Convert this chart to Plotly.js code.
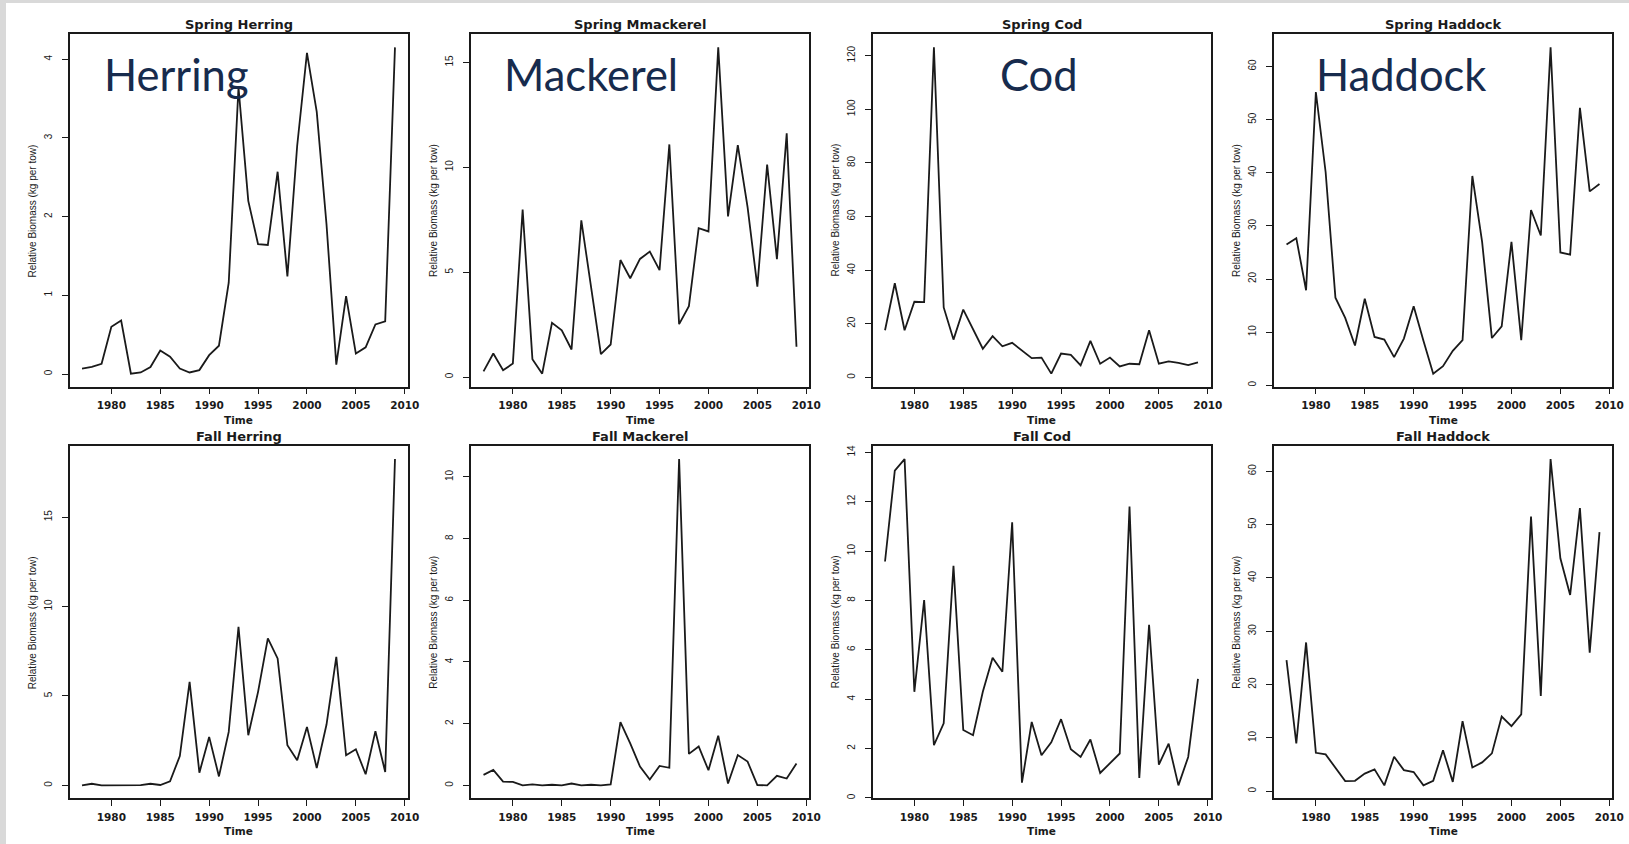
<!DOCTYPE html>
<html>
<head>
<meta charset="utf-8">
<script src="https://cdn.plot.ly/plotly-3.0.1.min.js"></script>
<style>
  html, body { margin: 0; padding: 0; background: #ffffff; }
  #chart { width: 1629px; height: 844px; }
</style>
</head>
<body>
<div id="chart"></div>
<script>
// Survey years
const years = [1977, 1978, 1979, 1980, 1981, 1982, 1983, 1984, 1985, 1986, 1987,
               1988, 1989, 1990, 1991, 1992, 1993, 1994, 1995, 1996, 1997, 1998,
               1999, 2000, 2001, 2002, 2003, 2004, 2005, 2006, 2007, 2008, 2009];

// Relative biomass (kg per tow), spring survey
const springHerring = [0.07, 0.09, 0.13, 0.60, 0.68, 0.005, 0.02, 0.09, 0.30, 0.22, 0.07,
                       0.02, 0.05, 0.24, 0.36, 1.16, 3.64, 2.20, 1.65, 1.64, 2.57, 1.24,
                       2.90, 4.08, 3.33, 1.90, 0.12, 0.99, 0.26, 0.34, 0.63, 0.67, 4.15];
const springMackerel = [0.27, 1.12, 0.32, 0.64, 7.98, 0.85, 0.16, 2.58, 2.23, 1.31, 7.47,
                        4.20, 1.09, 1.55, 5.58, 4.71, 5.63, 5.98, 5.10, 11.09, 2.52, 3.38,
                        7.10, 6.94, 15.72, 7.66, 11.06, 8.10, 4.31, 10.13, 5.62, 11.62, 1.44];
const springCod = [17.6, 35.1, 17.6, 28.2, 28.1, 123.1, 26.1, 14.1, 25.3, 18.0, 10.7,
                   15.4, 11.6, 12.9, 10.1, 7.2, 7.4, 1.4, 8.9, 8.4, 4.5, 13.6,
                   5.1, 7.4, 4.1, 5.1, 4.9, 17.6, 5.1, 6.0, 5.4, 4.6, 5.6];
const springHaddock = [26.5, 27.7, 17.9, 55.2, 40.1, 16.5, 12.7, 7.5, 16.3, 9.1, 8.6,
                       5.3, 8.8, 14.9, 8.4, 2.2, 3.6, 6.5, 8.5, 39.4, 27.0, 8.9,
                       11.1, 27.0, 8.5, 33.0, 28.2, 63.6, 25.0, 24.6, 52.2, 36.5, 37.9];

// Relative biomass (kg per tow), fall survey
const fallHerring = [0.0, 0.09, 0.0, 0.0, 0.0, 0.02, 0.01, 0.09, 0.02, 0.22, 1.64,
                     5.79, 0.71, 2.71, 0.50, 2.99, 8.87, 2.80, 5.23, 8.22, 7.10, 2.24,
                     1.40, 3.27, 0.97, 3.40, 7.19, 1.68, 2.02, 0.62, 3.03, 0.75, 18.25];
const fallMackerel = [0.34, 0.50, 0.12, 0.11, 0.0, 0.03, 0.0, 0.02, 0.0, 0.06, 0.0,
                      0.02, 0.0, 0.03, 2.05, 1.36, 0.61, 0.19, 0.63, 0.57, 10.58, 1.02,
                      1.26, 0.49, 1.61, 0.06, 0.98, 0.77, 0.01, 0.0, 0.31, 0.22, 0.71];
const fallCod = [9.58, 13.26, 13.73, 4.30, 8.02, 2.14, 3.02, 9.40, 2.75, 2.54, 4.30,
                 5.68, 5.11, 11.17, 0.62, 3.08, 1.73, 2.25, 3.19, 1.97, 1.66, 2.37,
                 1.01, 1.39, 1.80, 11.81, 0.81, 7.01, 1.35, 2.20, 0.51, 1.66, 4.82];
const fallHaddock = [24.6, 8.95, 27.9, 7.2, 6.9, 4.3, 1.9, 1.95, 3.3, 4.1, 1.1,
                     6.45, 3.95, 3.6, 1.1, 1.95, 7.7, 1.75, 13.15, 4.45, 5.4, 7.1,
                     14.0, 12.2, 14.4, 51.5, 17.85, 62.3, 43.7, 36.8, 53.1, 26.0, 48.6];

// Panel titles, series and y tick steps (top row, then bottom row)
const panelTitles = ['Spring Herring', 'Spring Mmackerel', 'Spring Cod', 'Spring Haddock',
                     'Fall Herring', 'Fall Mackerel', 'Fall Cod', 'Fall Haddock'];
const panelSeries = [springHerring, springMackerel, springCod, springHaddock,
                     fallHerring, fallMackerel, fallCod, fallHaddock];
const yTickSteps = [1, 5, 20, 10, 5, 2, 2, 10];
const xTickLabels = [1980, 1985, 1990, 1995, 2000, 2005, 2010];
const speciesLabels = ['Herring', 'Mackerel', 'Cod', 'Haddock'];

// Page geometry (px)
const W = 1629, H = 844;
const colLeft = [69.5, 471, 872.5, 1274];
const boxW = 338;
const rowTop = [34.3, 446];
const boxH = 352.4;

const ink = '#1a1a1a';
const plainFont = 'Liberation Sans, Arial, sans-serif';
const boldFont = 'DejaVu Sans, Verdana, sans-serif';

// R-style axis padding: 4% of the data range on each side
function padRange(lo, hi) {
  const d = hi - lo;
  return [lo - 0.04 * d, hi + 0.04 * d];
}

const traces = [];
const layout = {
  width: W, height: H,
  margin: {l: 0, r: 0, t: 0, b: 0},
  paper_bgcolor: '#ffffff',
  plot_bgcolor: '#ffffff',
  showlegend: false,
  annotations: [],
  shapes: [
    {type: 'rect', xref: 'paper', yref: 'paper', x0: 0, x1: 6 / W, y0: 0, y1: 1,
     fillcolor: '#d9d9d9', line: {width: 0}, layer: 'below'},
    {type: 'rect', xref: 'paper', yref: 'paper', x0: 0, x1: 1, y0: 1 - 3 / H, y1: 1,
     fillcolor: '#d9d9d9', line: {width: 0}, layer: 'below'}
  ]
};

const xRange = padRange(years[0], years[years.length - 1]);

panelSeries.forEach((vals, i) => {
  const n = i + 1;
  const col = i % 4, row = Math.floor(i / 4);
  const xa = 'xaxis' + (n === 1 ? '' : n), ya = 'yaxis' + (n === 1 ? '' : n);
  const xr = 'x' + (n === 1 ? '' : n), yr = 'y' + (n === 1 ? '' : n);

  traces.push({
    x: years, y: vals, xaxis: xr, yaxis: yr,
    type: 'scatter', mode: 'lines',
    line: {color: ink, width: 1.8},
    hoverinfo: 'x+y'
  });

  const x0 = colLeft[col], y0 = rowTop[row];
  const common = {
    showline: true, mirror: true, linecolor: ink, linewidth: 1.5,
    ticks: 'outside', ticklen: 6, tickwidth: 1.3, tickcolor: ink,
    showgrid: false, zeroline: false, fixedrange: true
  };

  layout[xa] = Object.assign({}, common, {
    domain: [x0 / W, (x0 + boxW) / W],
    anchor: yr,
    range: xRange,
    tickmode: 'array', tickvals: xTickLabels,
    ticktext: xTickLabels.map(String),
    tickfont: {family: boldFont, size: 10.5, color: ink, weight: 'bold'},
    ticklabelstandoff: 2
  });

  const lo = Math.min(...vals), hi = Math.max(...vals);
  layout[ya] = Object.assign({}, common, {
    domain: [1 - (y0 + boxH) / H, 1 - y0 / H],
    anchor: xr,
    range: padRange(lo, hi),
    tick0: 0, dtick: yTickSteps[i],
    tickangle: -90,
    tickfont: {family: plainFont, size: 10, color: ink},
    ticklabelstandoff: 6
  });

  const xd = xr + ' domain', yd = yr + ' domain';
  // panel title
  layout.annotations.push({
    xref: xd, yref: yd, x: 0.5, y: 1 + 9.5 / boxH, xanchor: 'center', yanchor: 'middle',
    text: panelTitles[i], showarrow: false,
    font: {family: boldFont, size: 13, color: ink, weight: 'bold'}
  });
  // x axis label
  layout.annotations.push({
    xref: xd, yref: yd, x: 0.5, y: -33 / boxH, xanchor: 'center', yanchor: 'middle',
    text: 'Time', showarrow: false, borderpad: 0,
    font: {family: boldFont, size: 10.5, color: ink, weight: 'bold'}
  });
  // y axis label
  layout.annotations.push({
    xref: xd, yref: yd, x: -37.5 / boxW, y: 0.5, xanchor: 'center', yanchor: 'middle',
    textangle: -90, text: 'Relative Biomass (kg per tow)', showarrow: false,
    font: {family: plainFont, size: 10, color: ink}
  });
  // species name over the spring panels
  if (row === 0) {
    const labelLeft = [101.7, 501.7, 998.3, 1314.3][col];
    layout.annotations.push({
      xref: xd, yref: yd, x: (labelLeft - x0) / boxW, y: 1 - (73.5 - y0) / boxH,
      xanchor: 'left', yanchor: 'middle',
      text: speciesLabels[col], showarrow: false,
      font: {family: 'Lato, Carlito, sans-serif', size: 43.5, color: '#172b4d'}
    });
  }
});

Plotly.newPlot('chart', traces, layout, {displayModeBar: false, staticPlot: false});
</script>
</body>
</html>
